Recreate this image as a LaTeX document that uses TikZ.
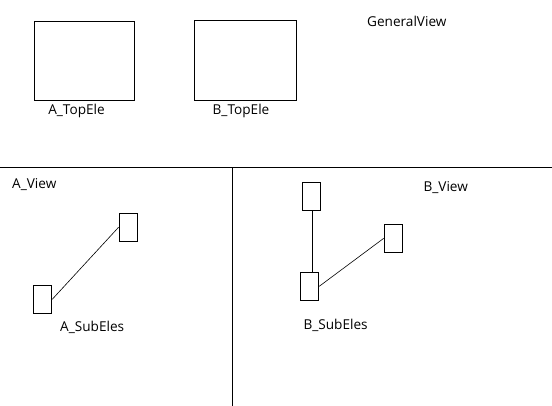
\documentclass[tikz,border=0pt]{standalone}
\usepackage{fontspec}
\setmainfont{Open Sans}
\usetikzlibrary{positioning,calc}
\tikzset{
  eleBox/.style={draw=black, line width=1pt, inner sep=0pt, minimum width=#1},
  subBox/.style={draw=black, line width=1pt, inner sep=0pt, minimum width=18.5pt, minimum height=28pt},
  viewText/.style={font=\fontsize{13.6}{15}\selectfont, inner sep=0pt, anchor=west},
  thinLink/.style={line width=0.6pt},
  thickLink/.style={line width=1pt}
}

\begin{document}
\begin{tikzpicture}[x=1pt, y=-1pt]
  \useasboundingbox (0,0) rectangle (552,406);

  % general view
  \node[eleBox=100pt, minimum height=79pt] (aTop) at (84,61.5) {};
  \node[eleBox=102pt, minimum height=80pt] (bTop) at (245,61) {};
  \node[viewText, anchor=center] (aTopLbl) at (76.5,111) {A\_TopEle};
  \node[viewText, anchor=center] (bTopLbl) at (241,111) {B\_TopEle};
  \node[viewText] (genLbl) at (367,21) {GeneralView};

  % separators
  \draw[line width=1pt] (0,168) -- (552,168);
  \draw[line width=1pt] (232,168) -- (232,406);

  % A view
  \node[viewText] (aViewLbl) at (12,185) {A\_View};
  \node[subBox] (aSubUp) at (128.3,227.3) {};
  \node[subBox] (aSubLow) at (42.5,299.3) {};
  \draw[thinLink] (aSubLow.east) -- (aSubUp.west);
  \node[viewText] (aSubLbl) at (60,327.5) {A\_SubEles};

  % B view
  \node[viewText] (bViewLbl) at (423.3,187.5) {B\_View};
  \node[subBox] (bSubTop) at (311.3,196.3) {};
  \node[subBox] (bSubLow) at (309.5,286.3) {};
  \node[subBox] (bSubRight) at (393.5,238.3) {};
  \draw[thickLink] ($(bSubTop.south)+(1,0)$) -- ($(bSubTop.south |- bSubLow.north)+(1,0)$);
  \draw[thinLink] (bSubLow.east) -- (bSubRight.west);
  \node[viewText] (bSubLbl) at (303.3,325) {B\_SubEles};
\end{tikzpicture}
\end{document}
